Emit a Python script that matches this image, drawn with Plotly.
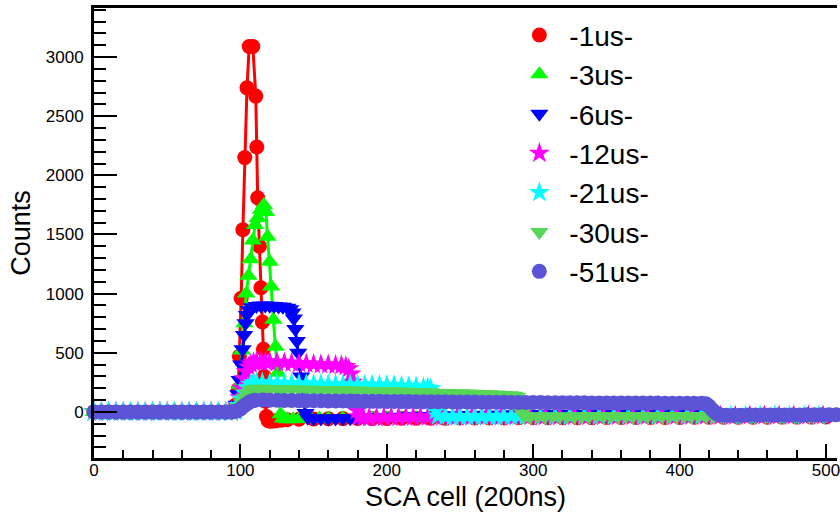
import plotly.graph_objects as go

# Pulse shapes recorded on the SCA for different shaping times.
# x = SCA cell index (200 ns per cell), y = ADC counts.

pre_cells = [0, 5, 10, 15, 20, 25, 30, 35, 40, 45, 50, 55, 60, 65, 70, 75, 80, 85, 90]
pre_counts = [0, 0, 0, 0, 0, 0, 0, 0, 0, 0, 0, 0, 0, 0, 0, 0, 0, 0, 0]

pts_1us = [(94, 0), (96, 10), (97, 60), (98.5, 190), (99.3, 470), (100.5, 960), (101.7, 1540),
           (103, 2150), (104.5, 2740), (106, 3090), (108.5, 3090), (110.5, 2670), (111.2, 2240),
           (111.8, 1810), (113, 1400), (114, 1050), (115, 760), (115.7, 530), (116.3, 300),
           (117, 90), (117.8, -40), (119, -75), (121, -80), (124, -76), (128, -70), (132, -66),
           (140, -62), (150, -60), (160, -58), (170, -57), (180, -56), (190, -55), (200, -55),
           (210, -54), (220, -54), (230, -53), (240, -53), (250, -52), (260, -52), (270, -51),
           (280, -51), (290, -50), (300, -50), (310, -50), (320, -49), (330, -49), (340, -49),
           (350, -48), (360, -48), (370, -48), (380, -47), (390, -47), (400, -47), (410, -46),
           (420, -46), (430, -46), (440, -45), (450, -45), (460, -45), (470, -44), (480, -44),
           (490, -44), (500, -43), (510, -43)]

pts_3us = [(94, 0), (96, 10), (98, 60), (99.5, 230), (101, 520), (102.7, 750), (104, 1000),
           (105.5, 1150), (107, 1290), (108.4, 1450), (110, 1580), (111.8, 1640), (114, 1710),
           (116, 1750), (117.5, 1690), (118.5, 1480), (120, 1270), (121, 1060), (122.5, 780),
           (124, 550), (125.5, 330), (126.5, 130), (127.5, -20), (129, -55), (132, -62),
           (136, -62), (140, -60), (144, -58), (148, -57), (154, -56), (160, -55), (170, -54),
           (180, -53), (190, -53), (200, -52), (210, -52), (220, -51), (230, -51), (240, -50),
           (250, -50), (260, -49), (270, -49), (280, -48), (290, -48), (300, -47), (310, -47),
           (320, -47), (330, -46), (340, -46), (350, -46), (360, -45), (370, -45), (380, -45),
           (390, -44), (400, -44), (410, -44), (420, -43), (430, -43), (440, -43), (450, -42),
           (460, -42), (470, -42), (480, -41), (490, -41), (500, -41), (510, -40)]

pts_6us = [(94, 0), (96, 10), (97.5, 60), (98.5, 150), (99.5, 270), (100.5, 400), (101.5, 530),
           (102.5, 650), (103.5, 750), (104.5, 820), (106, 860), (108, 885), (111, 895),
           (114, 900), (117, 900), (120, 898), (123, 895), (126, 892), (129, 888), (132, 880),
           (134, 868), (135.5, 840), (136.5, 790), (137.5, 700), (138.5, 600), (139.5, 500),
           (140.5, 400), (141.5, 300), (142.5, 200), (143.5, 90), (144.5, -10), (146, -50),
           (150, -55), (155, -56), (160, -56), (165, -55), (170, -54), (175, -53), (180, -52),
           (185, -50), (195, -46), (205, -42), (215, -38), (225, -35), (235, -32), (245, -29),
           (255, -27), (265, -25), (275, -23), (285, -21), (295, -19), (305, -18), (315, -17),
           (325, -16), (335, -15), (345, -14), (355, -13), (365, -12), (375, -11), (385, -10),
           (395, -10), (405, -9), (415, -8), (425, -8), (435, -7), (445, -7), (455, -6),
           (465, -6), (475, -6), (485, -5), (495, -5), (505, -5), (510, -5)]

pts_12us = [(94, 0), (96, 10), (98, 50), (99.5, 120), (101, 200), (102.5, 280), (104, 340),
            (105.5, 380), (107, 405), (109, 418), (111, 424), (114, 425), (117, 424),
            (120, 422), (125, 419), (130, 416), (135, 413), (140, 410), (145, 407), (150, 404),
            (155, 401), (160, 398), (165, 395), (169, 392), (172, 385), (174, 365),
            (175.5, 320), (176.5, 250), (177.5, 170), (178.5, 90), (179.5, 10), (181, -40),
            (184, -48), (188, -48), (193, -47), (198, -46), (203, -45), (208, -45), (213, -44),
            (218, -44), (223, -43), (228, -43), (233, -42), (238, -42), (248, -41), (258, -41),
            (268, -40), (278, -40), (288, -39), (298, -39), (308, -38), (318, -38), (328, -37),
            (338, -37), (348, -36), (358, -36), (368, -36), (378, -35), (388, -35), (398, -35),
            (408, -34), (418, -34), (428, -34), (438, -34), (448, -33), (458, -33), (468, -33),
            (478, -33), (488, -33), (498, -32), (510, -32)]

pts_21us = [(94, 0), (96, 10), (97, 15), (99, 55), (101, 110), (103, 160), (105, 205),
            (107, 232), (109, 244), (111, 247), (115, 246), (120, 244), (125, 242), (130, 240),
            (135, 238), (140, 237), (145, 235), (150, 234), (155, 233), (160, 232), (165, 231),
            (170, 230), (175, 229), (180, 228), (185, 228), (190, 227), (195, 226), (200, 225),
            (205, 223), (210, 220), (215, 216), (220, 212), (225, 207), (228, 202), (230, 195),
            (231.5, 150), (232.5, 80), (233.5, 10), (235, -35), (240, -40), (245, -40),
            (250, -40), (255, -39), (260, -39), (265, -39), (270, -38), (275, -38), (280, -38),
            (285, -37), (290, -37), (295, -37), (305, -36), (315, -36), (325, -36), (335, -35),
            (345, -35), (355, -35), (365, -34), (375, -34), (385, -34), (395, -34), (405, -33),
            (415, -33), (425, -33), (435, -33), (445, -33), (455, -32), (465, -32), (475, -32),
            (485, -32), (495, -32), (510, -32)]

pts_30us = [(94, 0), (96, 5), (97, 10), (99, 40), (101, 80), (103, 120), (105, 155), (107, 180),
            (109, 192), (111, 196), (115, 196), (120, 194), (125, 193), (130, 191), (135, 190),
            (140, 189), (145, 188), (150, 187), (155, 186), (160, 185), (165, 184), (170, 182),
            (175, 181), (180, 180), (185, 179), (190, 177), (195, 176), (200, 175), (205, 174),
            (210, 172), (215, 170), (220, 168), (225, 166), (230, 164), (235, 162), (240, 160),
            (245, 158), (250, 157), (255, 155), (260, 154), (265, 152), (270, 150), (275, 147),
            (280, 143), (284, 140), (287, 136), (289, 128), (290.5, 90), (291.5, 40),
            (292.5, -5), (294, -35), (298, -40), (303, -40), (308, -40), (313, -40), (318, -39),
            (323, -39), (328, -39), (333, -39), (338, -38), (343, -38), (348, -38), (353, -38),
            (358, -38), (363, -37), (368, -37), (373, -37), (378, -37), (383, -37), (388, -36),
            (393, -36), (398, -36), (403, -36), (408, -36), (413, -35), (418, -35), (423, -35),
            (430, -34), (440, -34), (450, -33), (460, -33), (470, -32), (480, -32), (490, -31),
            (500, -31), (510, -30)]

pts_51us = [(94, 0), (96, 3), (98, 10), (100, 25), (102, 45), (104, 65), (106, 82), (108, 93),
            (110, 98), (115, 100), (120, 99), (125, 98), (130, 97), (135, 96), (140, 95),
            (145, 95), (150, 94), (155, 94), (160, 93), (165, 92), (170, 92), (175, 91),
            (180, 90), (185, 90), (190, 89), (195, 89), (200, 88), (205, 88), (210, 87),
            (215, 87), (220, 86), (225, 86), (230, 85), (235, 85), (240, 85), (245, 84),
            (250, 84), (255, 83), (260, 83), (265, 82), (270, 82), (275, 81), (280, 81),
            (285, 80), (290, 80), (295, 80), (300, 79), (305, 79), (310, 78), (315, 78),
            (320, 78), (325, 77), (330, 77), (335, 77), (340, 76), (345, 76), (350, 76),
            (355, 75), (360, 75), (365, 75), (370, 74), (375, 74), (380, 74), (385, 74),
            (390, 73), (395, 73), (400, 73), (405, 73), (410, 72), (415, 72), (418, 68),
            (420, 50), (422, 22), (424, -2), (426, -18), (428, -26), (432, -28), (437, -28),
            (442, -28), (447, -27), (452, -27), (457, -27), (462, -27), (467, -26), (472, -26),
            (477, -26), (482, -26), (487, -25), (492, -25), (497, -25), (502, -25), (507, -25),
            (510, -25)]

series_names = ["-1us-", "-3us-", "-6us-", "-12us-", "-21us-", "-30us-", "-51us-"]
series_points = [pts_1us, pts_3us, pts_6us, pts_12us, pts_21us, pts_30us, pts_51us]
series_colors = ["#ff0000", "#00ff00", "#0000ff", "#ff00ff", "#00ffff", "#57d657", "#5b54d6"]
series_symbols = ["circle", "triangle-up", "triangle-down", "star", "star", "triangle-down", "circle"]
series_sizes = [15, 16, 16, 16, 16, 16, 15]

x_ticks = [0, 100, 200, 300, 400, 500]
y_ticks = [0, 500, 1000, 1500, 2000, 2500, 3000]

FONT = "Liberation Sans, Arial, Helvetica, sans-serif"

fig = go.Figure()
for name, pts, color, symbol, size in zip(series_names, series_points, series_colors,
                                          series_symbols, series_sizes):
    xs = pre_cells + [p[0] for p in pts]
    ys = pre_counts + [p[1] for p in pts]
    fig.add_trace(go.Scatter(
        x=xs, y=ys, mode="lines", line=dict(color=color, width=3),
        showlegend=False, legendgroup=name, cliponaxis=False, hoverinfo="skip"))
    fig.add_trace(go.Scatter(
        x=xs, y=ys, mode="markers", name=name, legendgroup=name,
        marker=dict(color=color, symbol=symbol, size=size, line=dict(width=0)),
        cliponaxis=False))

fig.update_layout(
    width=840, height=512,
    margin=dict(l=94, r=0, t=8, b=54),
    paper_bgcolor="white", plot_bgcolor="white",
    font=dict(family=FONT, color="black"),
    legend=dict(
        x=0.559, y=0.995, xanchor="left", yanchor="top",
        bgcolor="rgba(0,0,0,0)", borderwidth=0,
        font=dict(family=FONT, size=28, color="black"),
        tracegroupgap=8, traceorder="normal", itemwidth=50,
    ),
)

fig.update_xaxes(
    range=[0, 507.5], tickvals=x_ticks, ticks="inside", ticklen=14, tickwidth=2,
    tickcolor="black", showline=True, linewidth=3, linecolor="black", mirror=True,
    showgrid=False, zeroline=False, tickfont=dict(size=17), ticklabeloverflow="allow",
    ticklabelstandoff=-5,
    minor=dict(dtick=20, ticks="inside", ticklen=8, tickwidth=2, tickcolor="black", showgrid=False),
    title=dict(text="SCA cell (200ns)", font=dict(size=27), standoff=13),
)
fig.update_yaxes(
    range=[-390, 3415], tickvals=y_ticks, ticks="inside", ticklen=23, tickwidth=2,
    tickcolor="black", showline=True, linewidth=3, linecolor="black", mirror=False,
    showgrid=False, zeroline=False, tickfont=dict(size=17), ticklabelstandoff=4,
    minor=dict(dtick=100, ticks="inside", ticklen=12, tickwidth=2, tickcolor="black", showgrid=False),
    title=dict(text="Counts", font=dict(size=27), standoff=8),
)

fig.write_html("out.html")
